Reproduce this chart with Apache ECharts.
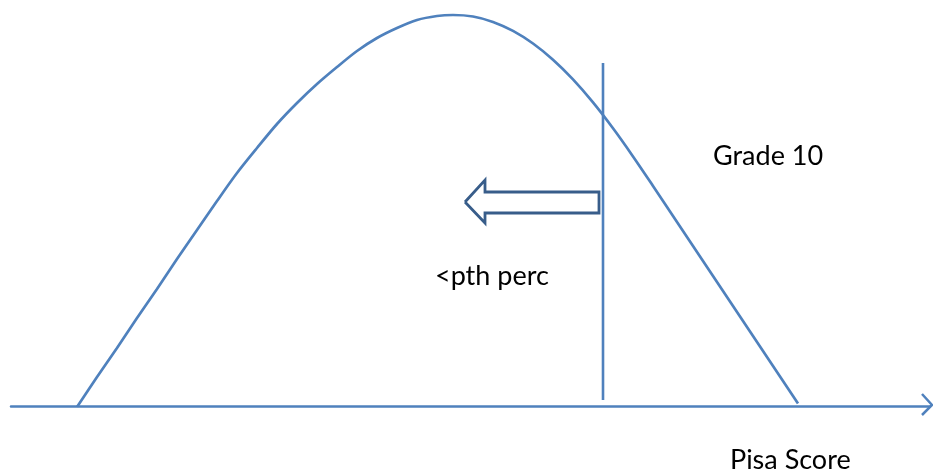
<!DOCTYPE html>
<html lang="en">
<head>
    <meta charset="UTF-8">
    <title>Pisa Score</title>
    <script src="https://cdn.jsdelivr.net/npm/echarts@6.0.0/dist/echarts.min.js"></script>
    <style>html,body{margin:0;padding:0;background:#fff;}</style>
</head>
<body>
<div id="main" style="width: 933px;height:476px;"></div>
<script type="text/javascript">
    // curve of the score distribution (x = score position, y = height)
    const curveX = [66, 86, 106, 126, 146, 166, 186, 206, 226, 246, 266, 286, 306, 326, 346, 366, 386, 406, 426, 442,
                    462, 482, 502, 522, 542, 562, 582, 602, 622, 642, 662, 682, 702, 722, 742, 762, 782, 787];
    const curveY = [-1, 29, 58, 88, 117, 147, 176, 205, 233, 258, 282, 303, 322, 339, 355, 368, 378, 386, 390, 391,
                    389.5, 384.1, 375.1, 362.5, 346.3, 326.6, 303.6, 277.7, 249.6, 220.1, 190.1, 160.1, 130.1, 100.1, 70.1, 40.1, 10.1, 2.6];
    // cut off line (pth percentile)
    const cutX = [592, 592];
    const cutY = [6, 343];
    // hollow arrow pointing left
    const arrowX = [454, 474, 474, 588, 588, 474, 474, 454];
    const arrowY = [204, 226, 214, 214, 193, 193, 183, 204];

    const zip = (xs, ys) => xs.map((x, i) => [x, ys[i]]);
    const blue = '#4f81bd';
    const font = 'Lato, "Open Sans", sans-serif';

    let myChart = echarts.init(document.getElementById('main'));
    let options = {
        animation: false,
        grid: { left: 11, right: 3, top: 0, bottom: 70 },
        xAxis: {
            type: 'value', min: 0, max: 919,
            axisLine: { show: true, lineStyle: { color: blue, width: 2.5 } },
            axisTick: { show: false }, axisLabel: { show: false }, splitLine: { show: false }
        },
        yAxis: {
            type: 'value', min: 0, max: 406, show: false, splitLine: { show: false }
        },
        series: [
            {
                type: 'line', data: zip(curveX, curveY), smooth: 0.3, symbol: 'none',
                lineStyle: { color: blue, width: 2.7 }
            },
            {
                type: 'line', data: zip(cutX, cutY), symbol: 'none',
                lineStyle: { color: blue, width: 2.6 }
            },
            {
                type: 'line', data: zip(arrowX, arrowY), symbol: 'none',
                lineStyle: { color: '#385d8a', width: 2.8, join: 'miter' }
            }
        ],
        graphic: [
            { type: 'text', left: 713, top: 143, style: { text: 'Grade 10', font: '27px ' + font, fill: '#000' } },
            { type: 'text', left: 435, top: 263, style: { text: '<pth perc', font: '27px ' + font, fill: '#000' } },
            { type: 'text', left: 730, top: 447, style: { text: 'Pisa Score', font: '27px ' + font, fill: '#000' } },
            {
                type: 'polyline',
                shape: { points: [[922, 394], [932, 405], [922, 415]] },
                style: { stroke: blue, lineWidth: 2.5, fill: null }
            }
        ]
    };
    myChart.setOption(options);
</script>
</body>
</html>
